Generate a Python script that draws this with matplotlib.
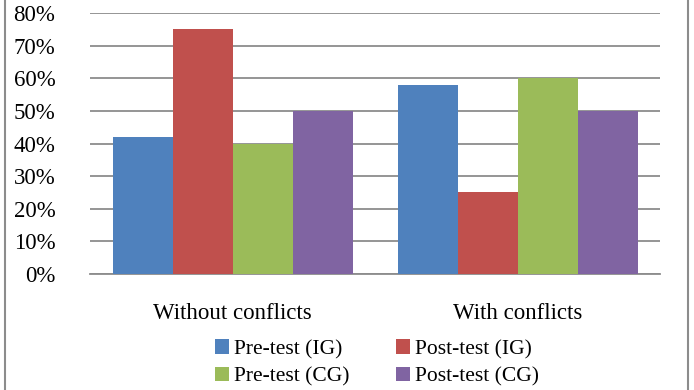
import numpy as np
import matplotlib
matplotlib.use("Agg")
import matplotlib.pyplot as plt
from matplotlib.patches import Rectangle

categories = ["Without conflicts", "With conflicts"]
series = ["Pre-test (IG)", "Post-test (IG)", "Pre-test (CG)", "Post-test (CG)"]
pre_ig = [42, 58]
post_ig = [75, 25]
pre_cg = [40, 60]
post_cg = [50, 50]
yticks = [0, 10, 20, 30, 40, 50, 60, 70, 80]

colors = ["#4f81bd", "#c0504d", "#9bbb59", "#8064a2"]

plt.rcParams['font.family'] = ['Liberation Serif', 'DejaVu Serif']

fig = plt.figure(figsize=(6.94, 3.90), dpi=100)
W, H = 694, 390
ax = fig.add_axes([90 / W, 1 - 274 / H, 570 / W, 261 / H])

x = np.arange(len(categories))
bw = 60 / 285
values = [pre_ig, post_ig, pre_cg, post_cg]
handles = []
for i, (vals, name, c) in enumerate(zip(values, series, colors)):
    b = ax.bar(x + (i - 1.5) * bw, vals, width=bw, color=c, label=name, zorder=3)
    handles.append(b)

ax.set_xlim(-0.5, 1.5)
ax.set_ylim(0, 80)
ax.set_yticks(yticks)
ax.set_yticklabels([f"{t}%" for t in yticks], fontsize=16.5)
ax.yaxis.grid(True, color="#8c8c8c", linewidth=1.3, zorder=0)
ax.tick_params(axis="y", length=0, pad=25)
ax.tick_params(axis="x", length=0, pad=21)
ax.set_xticks(x)
ax.set_xticklabels(categories, fontsize=16.5)
for s in ["top", "right", "left"]:
    ax.spines[s].set_visible(False)
ax.spines["bottom"].set_color("#8c8c8c")
ax.spines["bottom"].set_linewidth(1.3)

# legend fills column-wise, so order handles to get IG on the first row
order = [0, 2, 1, 3]
fig.legend(handles=[handles[i] for i in order], labels=[series[i] for i in order],
           ncol=2, loc="center",
           bbox_to_anchor=(377 / W, 1 - 363 / H), frameon=False, fontsize=15.5,
           handlelength=0.65, handleheight=0.65, handletextpad=0.2,
           columnspacing=2.2, labelspacing=0.35, borderpad=0)

fig.patches.append(Rectangle((5 / W, -0.05), 683 / W, 1.1, transform=fig.transFigure,
                             fill=False, edgecolor="#8c8c8c", linewidth=1.5))

fig.savefig("out.png", dpi=100)
